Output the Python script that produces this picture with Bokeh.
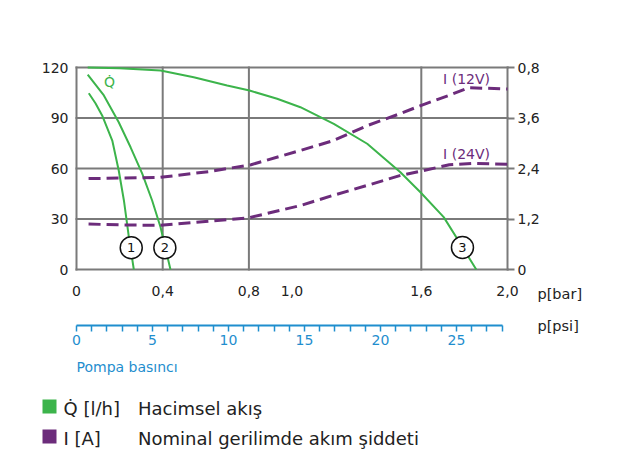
from bokeh.plotting import figure
from bokeh.models import Range1d, LinearAxis, FixedTicker, Label
from bokeh.core.properties import value
from bokeh.embed import file_html
from bokeh.resources import INLINE

FONT = "DejaVu Sans"
GREEN = "#3cb44b"
PURPLE = "#6c2c7b"
BLUE = "#1f8ece"
GRID = "#7a7a7a"
TXT = "#222222"

# Volume flow curves Q [l/h] vs pressure p [bar]
q1_p = [0.057, 0.088, 0.119, 0.166, 0.196, 0.220, 0.243, 0.266]
q1_q = [104.7, 98.8, 91.5, 76.6, 58.8, 41.0, 19.2, 0.0]
q2_p = [0.052, 0.127, 0.196, 0.251, 0.305, 0.351, 0.390, 0.436]
q2_q = [115.7, 103.4, 87.5, 72.6, 56.9, 41.0, 25.1, 0.0]
q3_p = [0.052, 0.2, 0.39, 0.544, 0.699, 0.803, 0.931, 1.039, 1.194, 1.349, 1.503, 1.596, 1.704, 1.79, 1.855]
q3_q = [120.0, 119.6, 118.2, 114.2, 109.3, 106.3, 101.4, 96.4, 86.5, 74.7, 57.8, 45.9, 31.1, 13.5, 0.0]

# Current curves I [A] vs pressure p [bar]
i12_p = [0.056, 0.39, 0.62, 0.81, 1.04, 1.19, 1.35, 1.50, 1.60, 1.73, 1.82, 2.0]
i12_a = [2.16, 2.19, 2.33, 2.49, 2.83, 3.06, 3.42, 3.70, 3.90, 4.14, 4.32, 4.29]
i24_p = [0.056, 0.2, 0.39, 0.55, 0.80, 1.04, 1.19, 1.35, 1.50, 1.61, 1.73, 1.84, 2.0]
i24_a = [1.08, 1.06, 1.05, 1.12, 1.23, 1.52, 1.76, 2.00, 2.23, 2.35, 2.49, 2.52, 2.50]

# Numbered curve markers
circle_p = [0.254, 0.410, 1.791]
circle_q = [12.9, 12.9, 13.1]
circle_txt = ["1", "2", "3"]

# Axis ticks and labels
bar_ticks = [0, 0.4, 0.8, 1.0, 1.6, 2.0]
bar_labels = ["0", "0,4", "0,8", "1,0", "1,6", "2,0"]
bar_grid = [0, 0.4, 0.8, 1.6, 2.0]
q_ticks = [0, 30, 60, 90, 120]
a_ticks = [0, 1.2, 2.4, 3.6, 4.8]
a_labels = ["0", "1,2", "2,4", "3,6", "0,8"]
psi_ticks = list(range(0, 29))
psi_labelled = [0, 5, 10, 15, 20, 25]

legend_keys = ["Q\u0307 [l/h]", "I [A]"]
legend_texts = ["Hacimsel akış", "Nominal gerilimde akım şiddeti"]
legend_colors = [GREEN, PURPLE]

# page geometry (pixels): plot box and canvas
W, H = 626, 472
X0, X1 = 76, 507      # p = 0 and p = 2.0 bar
Y0, Y1 = 269, 67      # Q = 0 and Q = 120
PSI_PX = 15.2         # pixels per psi on the lower scale
PSI_Y = 325           # page y of the psi scale line
LEG_ROWS = [406, 436] # page y of the legend rows
LEG_KEY_X, LEG_LBL_X, LEG_TXT_X = 49, 63, 137.5

bx_per_px = 2.0 / (X1 - X0)
q_per_px = 120.0 / (Y0 - Y1)
xr = (-X0 * bx_per_px, (W - X0) * bx_per_px)
yr = (-(H - Y0) * q_per_px, Y0 * q_per_px)

def page_x(px):
    return (px - X0) * bx_per_px

def page_y(py):
    return (Y0 - py) * q_per_px

p = figure(width=W, height=H, x_range=Range1d(*xr), y_range=Range1d(*yr),
           output_backend="svg", toolbar_location=None,
           min_border=0, min_border_left=0, min_border_right=0, min_border_top=0, min_border_bottom=0,
           background_fill_color="white", border_fill_color="white", outline_line_color=None)
p.extra_y_ranges = {"amp": Range1d(yr[0] / 25.0, yr[1] / 25.0)}
p.extra_x_ranges = {"psi": Range1d(-X0 / PSI_PX, (W - X0) / PSI_PX)}
p.xgrid.visible = False
p.ygrid.visible = False

# grid lines and plot box
p.segment(x0=bar_grid, y0=[q_ticks[0]] * len(bar_grid), x1=bar_grid, y1=[q_ticks[-1]] * len(bar_grid),
          line_color=GRID, line_width=2, line_cap="square")
p.segment(x0=[bar_grid[0]] * len(q_ticks), y0=q_ticks, x1=[bar_grid[-1]] * len(q_ticks), y1=q_ticks,
          line_color=GRID, line_width=2, line_cap="square")

def style_labels(ax, color=TXT, size="14px"):
    ax.major_label_text_font = FONT
    ax.major_label_text_font_size = size
    ax.major_label_text_color = color

# bar axis
bx = p.xaxis[0]
bx.fixed_location = 0
bx.ticker = FixedTicker(ticks=bar_ticks)
bx.major_label_overrides = {t: l for t, l in zip(bar_ticks, bar_labels)}
bx.axis_line_color = None
bx.major_tick_line_color = None
bx.minor_tick_line_color = None
bx.major_tick_out = 0
bx.major_tick_in = 0
bx.major_label_standoff = 16
style_labels(bx)

# left axis
ly = p.yaxis[0]
ly.fixed_location = 0
ly.ticker = FixedTicker(ticks=q_ticks)
ly.axis_line_color = None
ly.major_tick_line_color = None
ly.minor_tick_line_color = None
ly.major_tick_out = 0
ly.major_tick_in = 0
ly.major_label_standoff = 8
style_labels(ly)

# right axis
ry = LinearAxis(y_range_name="amp", fixed_location=2.0, ticker=FixedTicker(ticks=a_ticks),
                major_label_overrides={t: l for t, l in zip(a_ticks, a_labels)})
ry.axis_line_color = None
ry.major_tick_line_color = GRID
ry.major_tick_line_width = 2
ry.major_tick_out = 7
ry.major_tick_in = 0
ry.minor_tick_line_color = None
ry.major_label_standoff = 3
style_labels(ry)
p.add_layout(ry, "right")

# psi axis
px = LinearAxis(x_range_name="psi", fixed_location=page_y(PSI_Y), ticker=FixedTicker(ticks=psi_ticks),
                bounds=(0, 28),
                major_label_overrides={t: (str(t) if t in psi_labelled else "") for t in psi_ticks})
px.axis_line_color = BLUE
px.axis_line_width = 2
px.major_tick_line_color = BLUE
px.major_tick_line_width = 1.5
px.major_tick_out = 6
px.major_tick_in = 0
px.minor_tick_line_color = None
px.major_label_standoff = 3
style_labels(px, color=BLUE)
p.add_layout(px, "below")

# curves
for xs, ys in ((q1_p, q1_q), (q2_p, q2_q), (q3_p, q3_q)):
    p.line(xs, ys, line_color=GREEN, line_width=2)
p.line(i12_p, i12_a, y_range_name="amp", line_color=PURPLE, line_width=3, line_dash="12 6")
p.line(i24_p, i24_a, y_range_name="amp", line_color=PURPLE, line_width=3, line_dash="12 6")

p.scatter(circle_p, circle_q, marker="circle", size=22, fill_color="white",
          line_color="#111111", line_width=1.5)
p.text(circle_p, circle_q, text=circle_txt, text_align="center", text_baseline="middle",
       text_font=value(FONT), text_font_size="13px", text_color="#111111")

p.add_layout(Label(x=0.153, y=111.3, text="Q\u0307", text_align="center", text_baseline="middle",
                   text_font=FONT, text_font_size="14px", text_color=GREEN))
p.add_layout(Label(x=1.81, y=4.53, y_range_name="amp", text="I (12V)", text_align="center",
                   text_baseline="middle", text_font=FONT, text_font_size="14px", text_color=PURPLE))
p.add_layout(Label(x=1.81, y=2.75, y_range_name="amp", text="I (24V)", text_align="center",
                   text_baseline="middle", text_font=FONT, text_font_size="14px", text_color=PURPLE))

# axis names
p.add_layout(Label(x=page_x(537), y=page_y(293), text="p[bar]", text_baseline="middle",
                   text_font=FONT, text_font_size="14.5px", text_color=TXT))
p.add_layout(Label(x=page_x(537), y=page_y(325), text="p[psi]", text_baseline="middle",
                   text_font=FONT, text_font_size="14.5px", text_color=TXT))
p.add_layout(Label(x=page_x(76), y=page_y(366), text="Pompa basıncı", text_baseline="middle",
                   text_font=FONT, text_font_size="14px", text_color=BLUE))

# legend: colour keys, symbols and descriptions
leg_y = [page_y(r) for r in LEG_ROWS]
p.scatter([page_x(LEG_KEY_X)] * len(leg_y), leg_y, marker="square", size=14,
          fill_color=legend_colors, line_color=None)
for key, txt, ry_ in zip(legend_keys, legend_texts, LEG_ROWS):
    p.add_layout(Label(x=page_x(LEG_LBL_X), y=page_y(ry_ + 2), text=key, text_baseline="middle",
                       text_font=FONT, text_font_size="18px", text_color=TXT))
    p.add_layout(Label(x=page_x(LEG_TXT_X), y=page_y(ry_ + 2), text=txt, text_baseline="middle",
                       text_font=FONT, text_font_size="18px", text_color=TXT))

open("out.html", "w").write(file_html(p, INLINE))
